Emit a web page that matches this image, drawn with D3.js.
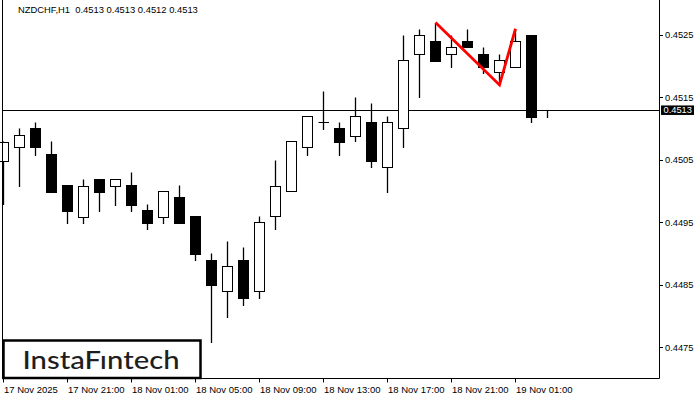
<!DOCTYPE html>
<html><head><meta charset="utf-8">
<script src="https://cdn.jsdelivr.net/npm/d3@7"></script>
<style>html,body{margin:0;padding:0;background:#fff;}svg{display:block;}</style>
</head><body>
<svg id="c" width="700" height="400"></svg>
<script>
const symbol = "NZDCHF,H1  0.4513 0.4513 0.4512 0.4513";
const opens  = [0.45049,0.45070,0.45101,0.45060,0.45010,0.44959,0.45019,0.45009,0.45010,0.44970,0.44959,0.44991,0.44960,0.44890,0.44840,0.44890,0.44840,0.44960,0.45000,0.45070,0.45110,0.45101,0.45089,0.45110,0.45039,0.45101,0.45219,0.45240,0.45219,0.45240,0.45220,0.45190,0.45199,0.45250,0.45130];
const highs  = [0.45080,0.45101,0.45111,0.45080,0.45010,0.45019,0.45019,0.45019,0.45031,0.44979,0.45000,0.45010,0.44960,0.44901,0.44920,0.44911,0.44960,0.45050,0.45080,0.45120,0.45160,0.45111,0.45151,0.45141,0.45120,0.45250,0.45260,0.45270,0.45250,0.45260,0.45230,0.45220,0.45260,0.45250,0.45130];
const lows   = [0.44979,0.45009,0.45058,0.44999,0.44949,0.44949,0.44969,0.44978,0.44969,0.44940,0.44949,0.44949,0.44889,0.44759,0.44799,0.44818,0.44829,0.44940,0.45000,0.45058,0.45100,0.45058,0.45080,0.45039,0.44999,0.45070,0.45150,0.45209,0.45199,0.45230,0.45189,0.45170,0.45199,0.45110,0.45119];
const closes = [0.45079,0.45090,0.45070,0.44999,0.44969,0.45009,0.44999,0.45019,0.44978,0.44949,0.45000,0.44949,0.44900,0.44849,0.44880,0.44829,0.44950,0.45009,0.45080,0.45120,0.45110,0.45079,0.45120,0.45049,0.45110,0.45210,0.45250,0.45209,0.45230,0.45230,0.45199,0.45210,0.45240,0.45119,0.45130];
const priceTicks = [0.4525,0.4515,0.4505,0.4495,0.4485,0.4475];
const timeTickIdx = [0,4,8,12,16,20,24,28,32];
const timeLabels = ["17 Nov 2025","17 Nov 21:00","18 Nov 01:00","18 Nov 05:00","18 Nov 09:00","18 Nov 13:00","18 Nov 17:00","18 Nov 21:00","19 Nov 01:00"];
const currentPrice = 0.4513;
const patternIdx = [27,31,32];
const patternKind = ["high","low","high"];

const svg = d3.select("#c");
const font = "'Liberation Sans', Arial, sans-serif";
const L = 2.5, R = 659.5, B = 378.5;
const x = d3.scaleLinear().domain([0, 34]).range([3.5, 547.5]);
const y = d3.scaleLinear().domain([0.4475, 0.4525]).range([347.3, 35]);
const sy = v => Math.round(y(v)) + 0.5;

const data = opens.map((o,i)=>({i,o,h:highs[i],l:lows[i],c:closes[i]}));

const plot = svg.append("g");
// current price line
plot.append("line").attr("x1",L).attr("x2",R).attr("y1",sy(currentPrice)).attr("y2",sy(currentPrice))
  .attr("stroke","#000").attr("stroke-width",1);

// wicks
plot.selectAll("line.w").data(data).enter().append("line").attr("class","w")
  .attr("x1",d=>x(d.i)).attr("x2",d=>x(d.i))
  .attr("y1",d=>sy(d.h)).attr("y2",d=>sy(d.l)+0.5)
  .attr("stroke","#000").attr("stroke-width",1.3);

// bodies
plot.selectAll("rect.b").data(data.filter(d=>Math.abs(sy(d.o)-sy(d.c))>=1)).enter().append("rect").attr("class","b")
  .attr("x",d=>x(d.i)-5).attr("width",10)
  .attr("y",d=>Math.min(sy(d.o),sy(d.c))).attr("height",d=>Math.abs(sy(d.o)-sy(d.c)))
  .attr("fill",d=>d.c>d.o?"#fff":"#000").attr("stroke","#000").attr("stroke-width",1);
// dojis
plot.selectAll("line.d").data(data.filter(d=>Math.abs(sy(d.o)-sy(d.c))<1)).enter().append("line").attr("class","d")
  .attr("x1",d=>x(d.i)-5).attr("x2",d=>x(d.i)+5.5)
  .attr("y1",d=>sy(d.c)).attr("y2",d=>sy(d.c))
  .attr("stroke","#000").attr("stroke-width",1);

// pattern
const pts = patternIdx.map((k,j)=>[x(k), y(patternKind[j]==="high"?highs[k]:lows[k])]);
plot.append("path").attr("d",d3.line()(pts)).attr("fill","none").attr("stroke","#ff0000").attr("stroke-width",2.8);

// frame
svg.append("path").attr("d",`M${L},0V${B}H${R}V0`).attr("fill","none").attr("stroke","#000").attr("stroke-width",1);

// right axis
const ra = svg.append("g");
priceTicks.forEach(p=>{
  ra.append("line").attr("x1",R).attr("x2",R+3.5).attr("y1",sy(p)).attr("y2",sy(p)).attr("stroke","#000");
  ra.append("text").attr("x",665).attr("y",y(p)+3.4).attr("font-family",font).attr("font-size",9.3).attr("fill","#000").text(p.toFixed(4));
});
// current price label
ra.append("rect").attr("x",661).attr("y",y(currentPrice)-4.5).attr("width",33).attr("height",9.5).attr("fill","#000");
ra.append("text").attr("x",663.5).attr("y",y(currentPrice)+3.5).attr("font-family",font).attr("font-size",9.3).attr("fill","#fff").text(currentPrice.toFixed(4));

// bottom axis
const ba = svg.append("g");
timeTickIdx.forEach((k,j)=>{
  const tx = Math.round(x(k)) - 0.5;
  ba.append("line").attr("x1",tx).attr("x2",tx).attr("y1",B).attr("y2",B+4).attr("stroke","#000");
  ba.append("text").attr("x",tx+0.5).attr("y",392.5).attr("font-family",font).attr("font-size",9.5).attr("fill","#000").text(timeLabels[j]);
});

// title
svg.append("text").attr("x",18).attr("y",13).attr("font-family",font).attr("font-size",9.4).attr("fill","#000")
  .style("white-space","pre").attr("xml:space","preserve").text(symbol);

// logo
svg.append("rect").attr("x",3.5).attr("y",340.5).attr("width",197).attr("height",37.5).attr("fill","#fff").attr("stroke","#000").attr("stroke-width",2.5);
svg.append("text").attr("x",22.5).attr("y",368.5).attr("font-family","Lato, 'Open Sans', sans-serif").attr("font-size",25.5).attr("font-weight",500)
  .attr("fill","#1e1e1e").attr("textLength",157).attr("lengthAdjust","spacingAndGlyphs").text("InstaFıntech");
</script>
</body></html>
